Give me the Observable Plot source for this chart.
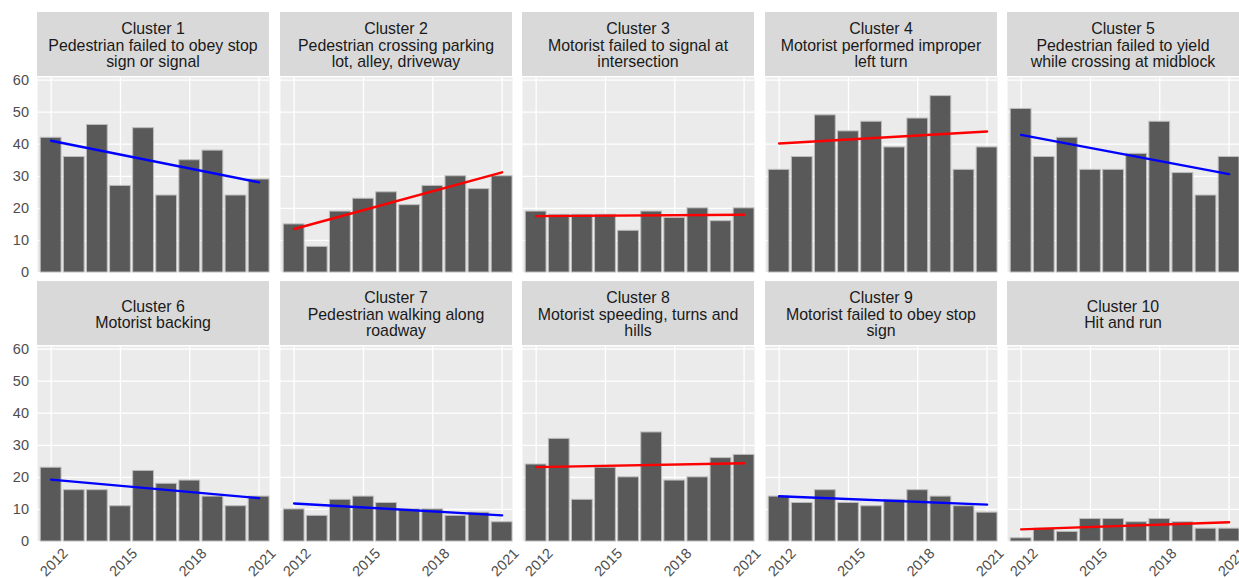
<!DOCTYPE html>
<html>
<head>
<meta charset="utf-8">
<script src="https://cdn.jsdelivr.net/npm/d3@7"></script>
<script src="https://cdn.jsdelivr.net/npm/@observablehq/plot@0.6"></script>
<style>
  body { margin: 0; background: #ffffff; font-family: "Liberation Sans", Arial, sans-serif; }
  #chart { position: relative; width: 1239px; height: 578px; overflow: hidden; background: #ffffff; }
  .strip { position: absolute; box-sizing: border-box; padding-top: 4px; background: #d9d9d9; color: #1a1a1a;
           font-size: 15.9px; line-height: 16.5px;
           display: flex; align-items: center; justify-content: center; text-align: center; white-space: pre; }
  .panel { position: absolute; }
</style>
</head>
<body>
<div id="chart"></div>
<script>
// ---- data ----
const years = [2012, 2013, 2014, 2015, 2016, 2017, 2018, 2019, 2020, 2021];
const clusterNames = ["Cluster 1", "Cluster 2", "Cluster 3", "Cluster 4", "Cluster 5",
                      "Cluster 6", "Cluster 7", "Cluster 8", "Cluster 9", "Cluster 10"];
const clusterDescriptions = [
  "Pedestrian failed to obey stop\nsign or signal",
  "Pedestrian crossing parking\nlot, alley, driveway",
  "Motorist failed to signal at\nintersection",
  "Motorist performed improper\nleft turn",
  "Pedestrian failed to yield\nwhile crossing at midblock",
  "Motorist backing",
  "Pedestrian walking along\nroadway",
  "Motorist speeding, turns and\nhills",
  "Motorist failed to obey stop\nsign",
  "Hit and run"
];
const cluster1 = [42, 36, 46, 27, 45, 24, 35, 38, 24, 29];
const cluster2 = [15, 8, 19, 23, 25, 21, 27, 30, 26, 30];
const cluster3 = [19, 18, 18, 18, 13, 19, 17, 20, 16, 20];
const cluster4 = [32, 36, 49, 44, 47, 39, 48, 55, 32, 39];
const cluster5 = [51, 36, 42, 32, 32, 37, 47, 31, 24, 36];
const cluster6 = [23, 16, 16, 11, 22, 18, 19, 14, 11, 14];
const cluster7 = [10, 8, 13, 14, 12, 10, 10, 8, 9, 6];
const cluster8 = [24, 32, 13, 23, 20, 34, 19, 20, 26, 27];
const cluster9 = [14, 12, 16, 12, 11, 13, 16, 14, 11, 9];
const cluster10 = [1, 4, 3, 7, 7, 6, 7, 6, 4, 4];
const clusterCounts = [cluster1, cluster2, cluster3, cluster4, cluster5,
                       cluster6, cluster7, cluster8, cluster9, cluster10];
const trendColors = ["blue", "red", "red", "red", "blue", "blue", "blue", "red", "blue", "red"];
const yTicks = [0, 10, 20, 30, 40, 50, 60];
const xTicks = [2012, 2015, 2018, 2021];

// ---- layout ----
const colLeft = [37, 280, 522, 765, 1007];
const panelW = 232;
const rowTop = [12, 281];
const stripH = 64;
const panelH = 195;
const chart = document.getElementById("chart");

clusterCounts.forEach((counts, i) => {
  const col = i % 5, row = Math.floor(i / 5);
  const data = years.map((year, j) => ({year, count: counts[j]}));

  const strip = document.createElement("div");
  strip.className = "strip";
  strip.style.left = colLeft[col] + "px";
  strip.style.top = rowTop[row] + "px";
  strip.style.width = panelW + "px";
  strip.style.height = stripH + "px";
  strip.textContent = clusterNames[i] + "\n" + clusterDescriptions[i];
  chart.appendChild(strip);

  const mLeft = col === 0 ? colLeft[0] : 0;
  const mBottom = row === 1 ? 37 : 0;
  const marks = [
    Plot.frame({fill: "#ebebeb", stroke: "none"}),
    Plot.gridY(yTicks, {stroke: "#ffffff", strokeOpacity: 1, strokeWidth: 1.3}),
    Plot.gridX(xTicks, {stroke: "#ffffff", strokeOpacity: 1, strokeWidth: 1.3}),
    Plot.rectY(data, {x1: d => d.year - 0.45, x2: d => d.year + 0.45, y: "count",
                      fill: "#595959", stroke: "#bdbdbd", strokeWidth: 1}),
    Plot.linearRegressionY(data, {x: "year", y: "count", stroke: trendColors[i], strokeWidth: 2.4, ci: 0})
  ];
  if (col === 0) {
    marks.push(Plot.axisY(yTicks, {tickSize: 0, tickPadding: 8.5, fontSize: 14.5, fill: "#4d4d4d", tickFormat: d => String(d)}));
  } else {
    marks.push(Plot.axisY(yTicks, {tickSize: 0, tickFormat: () => ""}));
  }
  if (row === 1) {
    marks.push(Plot.axisX(xTicks, {tickSize: 0, tickPadding: 0, tickRotate: -45, textAnchor: "middle",
      lineAnchor: "middle", dy: 21, dx: 3, fontSize: 14.5, fill: "#4d4d4d", tickFormat: d => String(d)}));
  } else {
    marks.push(Plot.axisX(xTicks, {tickSize: 0, tickFormat: () => ""}));
  }

  const svg = Plot.plot({
    width: mLeft + panelW,
    height: panelH + mBottom,
    marginLeft: mLeft, marginRight: 0, marginTop: 0, marginBottom: mBottom,
    x: {domain: [2011.41, 2021.45], label: null},
    y: {domain: [0, 60.8], label: null},
    style: {fontFamily: "Liberation Sans, Arial, sans-serif", fontSize: "14.5px", color: "#4d4d4d",
            background: "transparent", overflow: "visible"},
    marks
  });
  const holder = document.createElement("div");
  holder.className = "panel";
  holder.style.left = (colLeft[col] - mLeft) + "px";
  holder.style.top = (rowTop[row] + stripH + 1) + "px";
  holder.appendChild(svg);
  chart.appendChild(holder);
});
</script>
</body>
</html>
